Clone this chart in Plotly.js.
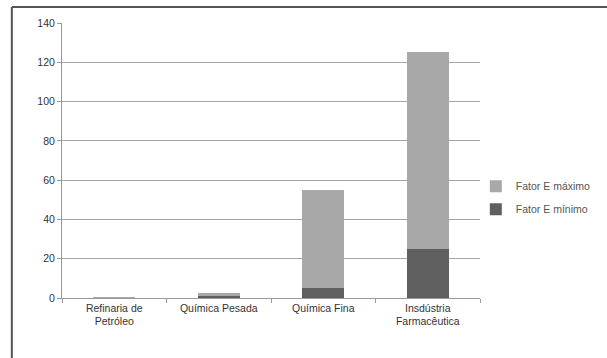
<!DOCTYPE html>
<html>
<head>
<meta charset="utf-8">
<script src="https://cdn.plot.ly/plotly-3.0.1.min.js"></script>
<style>html,body{margin:0;padding:0;background:#fff;}#chart{width:607px;height:358px;}</style>
</head>
<body>
<div id="chart"></div>
<script>
const categories = ["Refinaria de<br>Petróleo", "Química Pesada", "Química Fina", "Insdústria<br>Farmacêutica"];
const fatorMinimo = [0.1, 1, 5, 25];
const fatorMaximo = [0.3, 1.5, 50, 100];
const seriesNames = ["Fator E mínimo", "Fator E máximo"];
const yTicks = [0, 20, 40, 60, 80, 100, 120, 140];

const traces = [
  {type: "bar", name: seriesNames[0], x: categories, y: fatorMinimo, legendgroup: "min", legendrank: 2,
   marker: {color: "#5f5f5f"}},
  {type: "bar", name: seriesNames[1], x: categories, y: fatorMaximo, legendgroup: "max", legendrank: 1,
   marker: {color: "#a8a8a8"}}
];

const layout = {
  width: 607, height: 358,
  margin: {l: 62, r: 127, t: 23, b: 60, autoexpand: false},
  paper_bgcolor: "#fff", plot_bgcolor: "#fff",
  font: {family: "Liberation Sans, Arial, sans-serif", size: 10.5, color: "#333"},
  barmode: "stack",
  bargap: 0.6,
  showlegend: true,
  legend: {x: 0.99, y: 0.365, xanchor: "left", yanchor: "middle", traceorder: "grouped",
           font: {size: 10.5, color: "#555"}, itemwidth: 30, tracegroupgap: 4,
           bgcolor: "rgba(0,0,0,0)"},
  xaxis: {type: "category", showgrid: false, showline: true, linecolor: "#999", linewidth: 1,
          ticks: "outside", tickson: "boundaries", ticklen: 4, tickcolor: "#999",
          tickfont: {size: 10.5, color: "#333"}, fixedrange: true, automargin: false},
  yaxis: {range: [0, 140], tickvals: yTicks, showgrid: true, gridcolor: "#a6a6a6", gridwidth: 1,
          showline: true, linecolor: "#999", ticks: "outside", ticklen: 4, tickcolor: "#999",
          zeroline: false, tickfont: {size: 10.5, color: "#333"}, automargin: false},
  shapes: [
    {type: "line", xref: "paper", yref: "paper", x0: -0.12, x1: 1.4, y0: 1.058, y1: 1.058,
     line: {color: "#555", width: 2}},
    {type: "line", xref: "paper", yref: "paper", x0: -0.12, x1: -0.12, y0: 1.058, y1: -0.3,
     line: {color: "#555", width: 2}}
  ]
};

Plotly.newPlot("chart", traces, layout, {displayModeBar: false, staticPlot: true});
</script>
</body>
</html>
